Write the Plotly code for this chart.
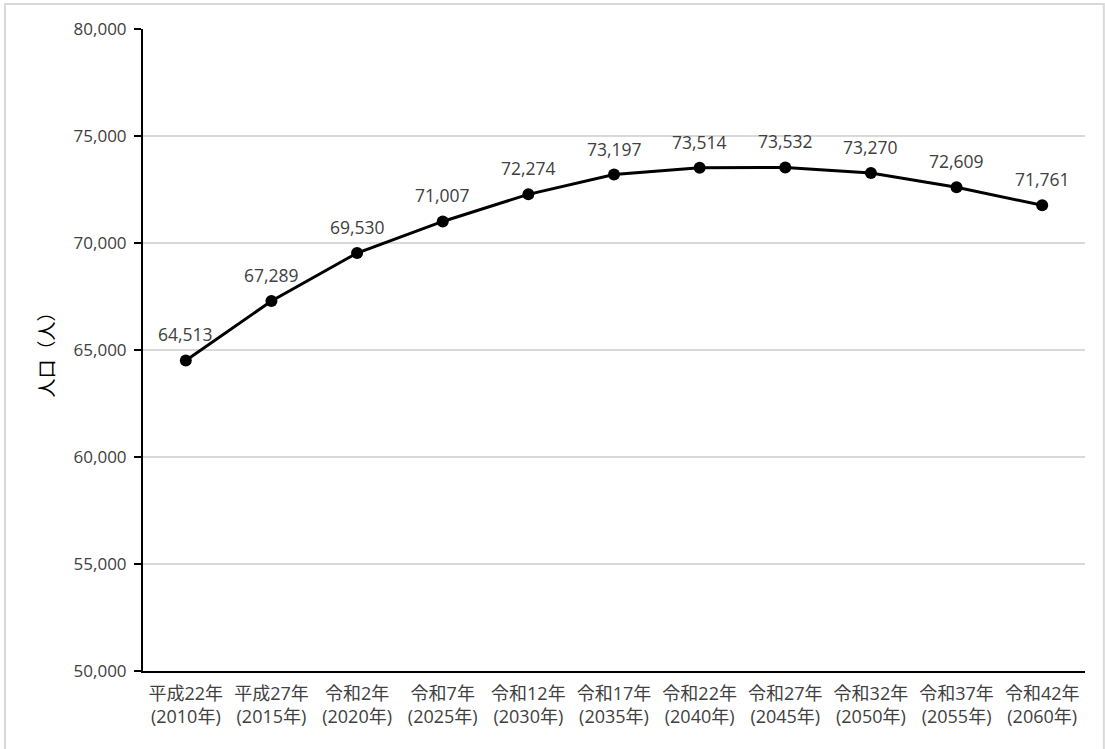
import plotly.graph_objects as go

categories = ["平成22年<br>(2010年)", "平成27年<br>(2015年)", "令和2年<br>(2020年)", "令和7年<br>(2025年)",
              "令和12年<br>(2030年)", "令和17年<br>(2035年)", "令和22年<br>(2040年)", "令和27年<br>(2045年)",
              "令和32年<br>(2050年)", "令和37年<br>(2055年)", "令和42年<br>(2060年)"]
population = [64513, 67289, 69530, 71007, 72274, 73197, 73514, 73532, 73270, 72609, 71761]
y_ticks = [50000, 55000, 60000, 65000, 70000, 75000, 80000]

FONT = "Open Sans, Noto Sans CJK JP, sans-serif"
TXT = "#404040"

fig = go.Figure()
fig.add_trace(go.Scatter(
    x=categories, y=population,
    mode="lines+markers",
    line=dict(color="black", width=3),
    marker=dict(color="black", size=12),
    showlegend=False,
    hoverinfo="x+y",
))

annotations = [dict(x=c, y=v, xref="x", yref="y", text=f"{v:,}", showarrow=False,
                    yanchor="middle", xanchor="center", yshift=26,
                    font=dict(family=FONT, size=17.5, color=TXT))
               for c, v in zip(categories, population)]

fig.update_layout(
    width=1105, height=749,
    margin=dict(l=143, r=20, t=29, b=78),
    paper_bgcolor="white", plot_bgcolor="white",
    font=dict(family=FONT, size=17, color=TXT),
    xaxis=dict(
        type="category",
        showline=True, linecolor="black", linewidth=2,
        ticks="", showgrid=False,
        tickfont=dict(family=FONT, size=18, color=TXT),
        ticklabelstandoff=5,
        range=[-0.5, 10.5],
    ),
    yaxis=dict(
        range=[50000, 80000],
        tickvals=y_ticks,
        ticktext=[f"{v:,}" for v in y_ticks],
        showline=True, linecolor="black", linewidth=2,
        ticks="outside", ticklen=7, tickcolor="black", tickwidth=1.5,
        ticklabelstandoff=4,
        showgrid=True, gridcolor="#d9d9d9", gridwidth=1.5,
        zeroline=False,
        tickfont=dict(family=FONT, size=17, color=TXT),
        title=dict(text="人口（人）", font=dict(family=FONT, size=19, color="black"), standoff=14),
    ),
    annotations=annotations,
    shapes=[dict(type="rect", xref="paper", yref="paper",
                 x0=-0.1465, x1=1.02, y0=-0.14, y1=1.039,
                 line=dict(color="#d9d9d9", width=2), fillcolor="rgba(0,0,0,0)", layer="below")],
)

fig.write_html("out.html", config={"displayModeBar": False},
               post_script="document.body.style.margin='0';document.body.style.overflow='hidden';")
